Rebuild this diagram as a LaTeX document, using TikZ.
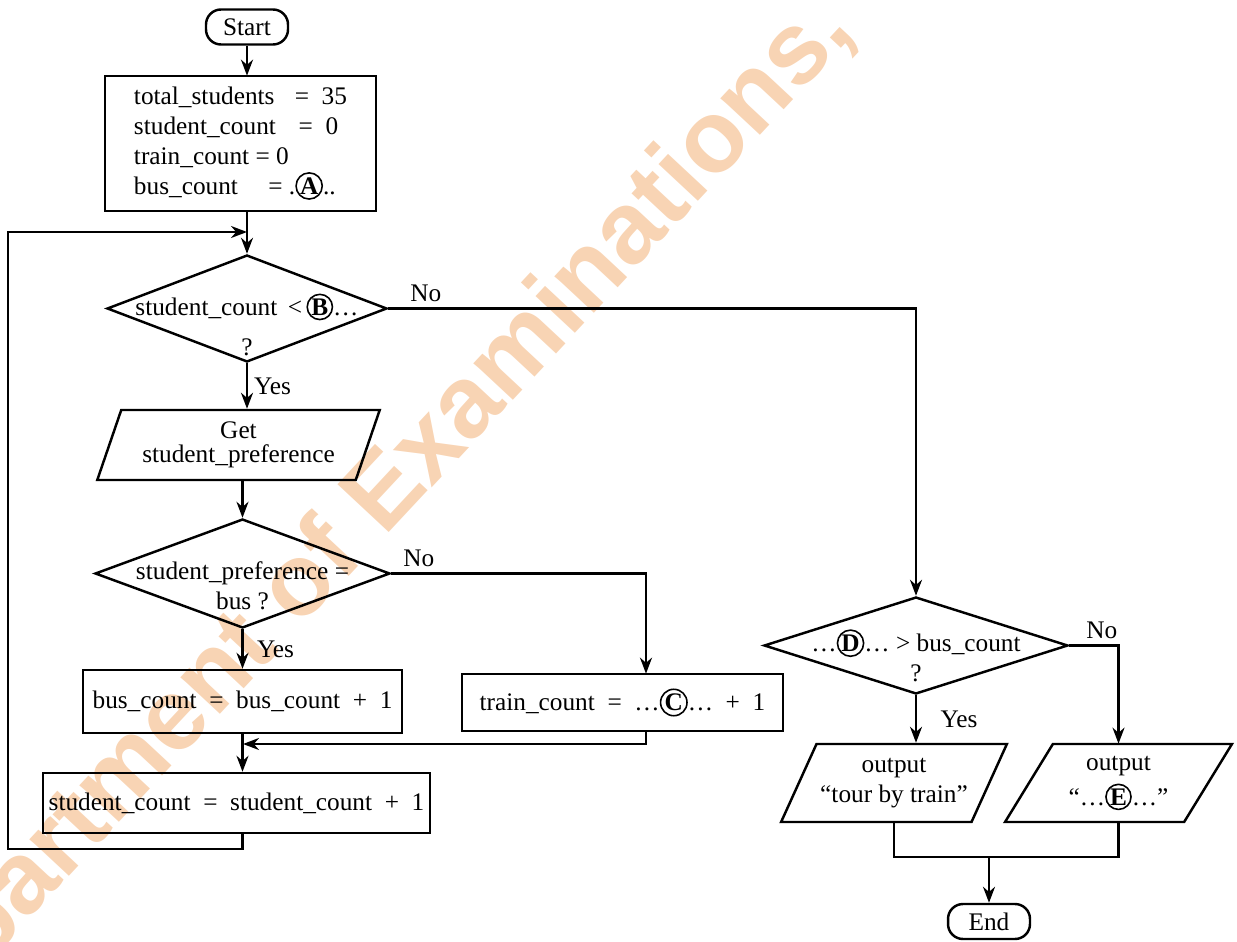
\documentclass[tikz,border=0pt]{standalone}
\usepackage{fontspec}
\setmainfont{Liberation Serif}
\newfontfamily\wmfont{Liberation Sans}
\usetikzlibrary{shapes.geometric,arrows.meta}
\definecolor{wmark}{HTML}{F8D4B4}
\tikzset{
    term/.style={draw, rounded corners=0.3cm, minimum width=1.64cm, minimum height=0.7cm, inner sep=2pt},
    proc/.style={draw, inner sep=2pt},
    decide/.style={draw, diamond, inner sep=0pt},
    io/.style={draw, trapezium, trapezium stretches=true, inner sep=1pt, align=center},
    arr/.style={-{Stealth[length=3.2mm,width=2.4mm]}}
}
\newcommand{\lettercirc}[1]{\tikz[baseline=(c.base)]\node[circle,draw,line width=0.9pt,inner sep=0.3pt,minimum width=0pt,minimum height=0pt,font=\bfseries](c){#1};}
\begin{document}
\begin{tikzpicture}[x=0.02cm,y=-0.02cm,line width=1.4pt,font=\fontsize{14.4}{17}\selectfont]
        \useasboundingbox (0,0) rectangle (1237,942);
        \node[rotate=47,text=wmark,inner sep=0,font=\wmfont\bfseries\fontsize{58}{60}\selectfont] (wm) at (356,530) {Department of Examinations,};
        \node[term] (start) at (247,27) {Start};
        \node[proc, minimum width=5.42cm, minimum height=2.7cm, align=left] (init) at (240.5,143.5)
            {total\_students\hspace{0.8em}=\hspace{0.5em}35\\
             student\_count\hspace{0.9em}=\hspace{0.5em}0\\
             train\_count = 0\\
             bus\_count\hspace{1.2em}= .\lettercirc{A}..};
        \node[decide, minimum width=5.6cm, minimum height=2.14cm,
            label={[align=center,yshift=-0.32cm]center:{student\_count \,<\,\lettercirc{B}\ldots\\[0.2cm]?}}] (cond) at (247,308.5) {};
        \node[io, trapezium left angle=68, trapezium right angle=112, minimum width=5.66cm, minimum height=1.4cm] (getpref) at (238.5,445)
            {Get\\[-3.4pt]student\_preference};
        \node[decide, minimum width=5.9cm, minimum height=2.18cm,
            label={[align=center,yshift=-0.24cm]center:{student\_preference =\\bus ?}}] (pref) at (242.5,573.5) {};
        \node[proc, minimum width=6.38cm, minimum height=1.26cm] (bus) at (242.5,701.5)
            {bus\_count\enspace=\enspace bus\_count\enspace+\enspace1};
        \node[proc, minimum width=6.42cm, minimum height=1.14cm] (train) at (622.5,702.5)
            {train\_count\enspace=\enspace\ldots\lettercirc{C}\ldots\enspace+\enspace1};
        \node[proc, minimum width=7.74cm, minimum height=1.2cm] (count) at (236.5,803)
            {student\_count\enspace=\enspace student\_count\enspace+\enspace1};
        \node[decide, minimum width=6.08cm, minimum height=1.94cm,
            label={[align=center,yshift=-0.2cm]center:{\ldots\lettercirc{D}\ldots\ > bus\_count\\?}}] (compare) at (916,645.5) {};
        \node[io, trapezium left angle=57, trapezium right angle=123, minimum width=4.52cm, minimum height=1.56cm] (outtrain) at (894,783)
            {output\\“tour by train”};
        \node[io, trapezium left angle=57, trapezium right angle=123, minimum width=4.54cm, minimum height=1.56cm] (outE) at (1118.5,783)
            {output\\[3pt]“\ldots\lettercirc{E}\ldots”};
        \node[term] (stop) at (989,921.5) {End};
        \coordinate (back) at (8,849);
        \coordinate (entry) at (247,232);
        \coordinate (merge) at (243,744);
        \coordinate (join) at (989,857);
        \draw[arr] (start) -- (start |- init.north);
        \draw[arr] (init.south -| cond.north) -- (cond.north);
        \draw[arr] (count.south -| bus.south) |- (back) |- (entry);
        \draw[arr] (cond.south) -- (cond.south |- getpref.north) node[midway,right]{Yes};
        \draw[arr] (getpref.south -| pref.north) -- (pref.north);
        \draw[arr] (pref.south) -- (pref.south |- bus.north) node[midway,right,xshift=0.15cm]{Yes};
        \draw[arr] (pref.east) node[above right,xshift=0.1cm]{No} -| ([xshift=0.47cm]train.north);
        \draw[arr] (bus.south) -- (bus.south |- count.north);
        \draw[arr] ([xshift=0.47cm]train.south) |- (merge);
        \draw[arr] (cond.east) node[above right,xshift=0.3cm]{No} -| (compare.north);
        \draw[arr] (compare.south) -- (compare.south |- outtrain.north) node[midway,right=0.35cm]{Yes};
        \draw[arr] (compare.east) node[above right,xshift=0.2cm]{No} -| (outE.north);
        \draw (outtrain.south) |- (join) -| (outE.south);
        \draw[arr] (join) -- (stop);
    \end{tikzpicture}
\end{document}
